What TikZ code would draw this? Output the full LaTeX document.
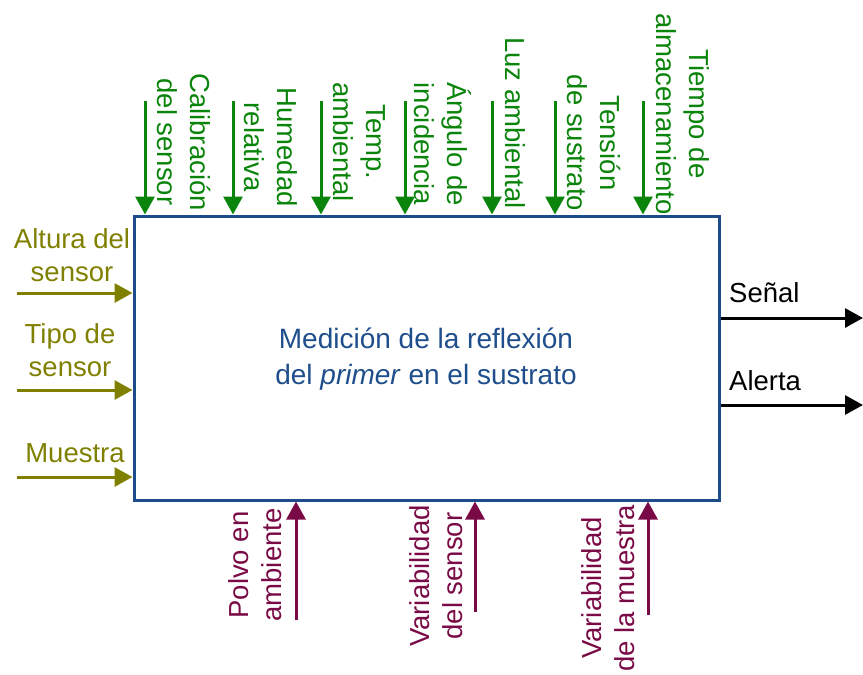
\documentclass[tikz,border=0pt]{standalone}
\usepackage{fontspec}
\setmainfont{Liberation Sans}
\usetikzlibrary{arrows.meta}
\definecolor{ingreen}{HTML}{0A840A}
\definecolor{inolive}{HTML}{808000}
\definecolor{inmaroon}{HTML}{7A0A45}
\definecolor{boxblue}{HTML}{1C4C8A}
\definecolor{txtblue}{HTML}{1F4E8C}
\tikzset{
  lbl/.style={inner sep=0pt, align=center, font=\fontsize{27.5}{33}\selectfont},
  gtxt/.style={lbl, text=ingreen, rotate=-90},
  otxt/.style={lbl, text=inolive},
  mtxt/.style={lbl, text=inmaroon, rotate=90},
  ktxt/.style={lbl, text=black, anchor=west},
  arr/.style={line width=3pt, -{Triangle[length=18pt,width=19pt]}},
  garr/.style={arr, draw=ingreen, fill=ingreen},
  oarr/.style={arr, draw=inolive, fill=inolive},
  marr/.style={arr, draw=inmaroon, fill=inmaroon},
  karr/.style={arr, draw=black, fill=black},
  mainbox/.style={draw=boxblue, line width=3pt, fill=white, minimum width=585pt, minimum height=284pt, inner sep=0pt},
  boxtext/.style={inner sep=0pt, align=center, text=txtblue, font=\fontsize{28}{36}\selectfont}
}
\begin{document}
\begin{tikzpicture}[x=1pt,y=-1pt]
\useasboundingbox (0,0) rectangle (863,675);
\node[mainbox] (box) at (426.5,358) {};
\node[boxtext] (boxtxt) at (426,359.5) {Medición de la reflexión\\del \textit{primer} en el sustrato};

% top (green) inputs
\coordinate (t1) at (145,101);
\coordinate (t2) at (233,101);
\coordinate (t3) at (321,101);
\coordinate (t4) at (405,101);
\coordinate (t5) at (492,101);
\coordinate (t6) at (555,101);
\coordinate (t7) at (643,101);
\foreach \i in {1,...,7} {\draw[garr] (t\i) -- (t\i |- box.north);}
\node[gtxt] (lt1) at (184,142) {Calibración\\del sensor};
\node[gtxt] (lt2) at (271,147) {Humedad\\relativa};
\node[gtxt] (lt3) at (359,142) {Temp.\\ambiental};
\node[gtxt] (lt4) at (443,144) {Ángulo de\\incidencia};
\node[gtxt] (lt5) at (515,123) {Luz ambiental};
\node[gtxt] (lt6) at (594,143) {Tensión\\de sustrato};
\node[gtxt] (lt7) at (683,114) {Tiempo de\\almacenamiento};

% left (olive) inputs
\coordinate (l1) at (17,293);
\coordinate (l2) at (17,390);
\coordinate (l3) at (17,477);
\foreach \i in {1,2,3} {\draw[oarr] (l\i) -- (l\i -| box.west);}
\node[otxt] (ll1) at (72,255) {Altura del\\sensor};
\node[otxt] (ll2) at (70,350) {Tipo de\\sensor};
\node[otxt] (ll3) at (75,453) {Muestra};

% bottom (maroon) inputs
\coordinate (b1) at (296,620);
\coordinate (b2) at (475,612);
\coordinate (b3) at (648,615);
\foreach \i in {1,2,3} {\draw[marr] (b\i) -- (b\i |- box.south);}
\node[mtxt] (lb1) at (255,565) {Polvo en\\ambiente};
\node[mtxt] (lb2) at (436,576) {Variabilidad\\del sensor};
\node[mtxt] (lb3) at (608,588) {Variabilidad\\de la muestra};

% right (black) outputs
\coordinate (r1) at (863,318);
\coordinate (r2) at (863,405);
\draw[karr] (r1 -| box.east) -- (r1);
\draw[karr] (r2 -| box.east) -- (r2);
\node[ktxt] (lr1) at (729,293) {Señal};
\node[ktxt] (lr2) at (729,381) {Alerta};
\end{tikzpicture}
\end{document}
